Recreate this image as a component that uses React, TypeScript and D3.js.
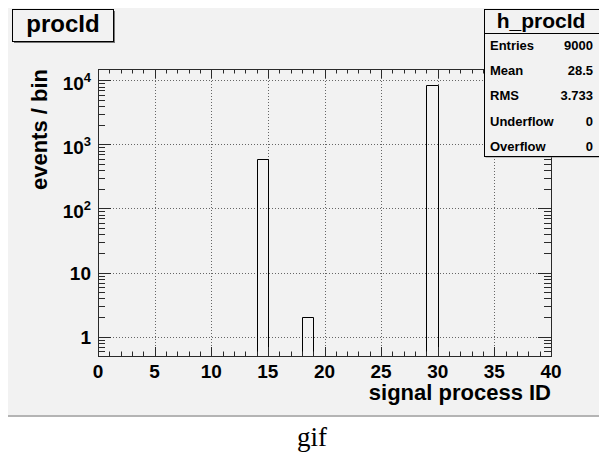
import * as d3 from 'd3';

// histogram h_procId: bins of width 1, only non-empty ones listed
const binLow = [14, 18, 29];
const binCounts = [597, 2, 8401];
const binWidth = 1;

const xTicks = [0, 5, 10, 15, 20, 25, 30, 35, 40];
const yDecades = [0, 1, 2, 3, 4];

const statLabels = ['Entries', 'Mean', 'RMS', 'Underflow', 'Overflow'];
const statValues = ['9000', '28.5', '3.733', '0', '0'];

const W = 599;
const H = 455;
const frame = { left: 98, right: 551, top: 69, bottom: 356 };
const sans = '"Liberation Sans", Arial, Helvetica, sans-serif';
const axisColor = '#2a2a2a';

export default function App() {
  const x = d3.scaleLinear().domain([0, 40]).range([frame.left, frame.right]);
  const y = d3.scaleLog().domain([0.5, 15000]).range([frame.bottom, frame.top]);

  const minorX = d3.range(0, 41, 1).filter(v => v % 5 !== 0);
  // log minor ticks 2..9 per decade, inside the domain
  const minorY: number[] = [];
  for (let e = -1; e <= 4; e++) {
    for (let m = 2; m <= 9; m++) {
      const v = m * Math.pow(10, e);
      if (v >= 0.5 && v <= 15000) minorY.push(v);
    }
  }

  const xMaj = 9, xMin = 4.5, yMaj = 13, yMin = 7;

  return (
    <div style={{ position: 'absolute', left: 0, top: 0 }}>
      <svg width={W} height={H} style={{ display: 'block' }}>
        <rect x={0} y={0} width={W} height={H} fill="#fff" />
        {/* canvas */}
        <rect x={8} y={8} width={600} height={408} fill="#f2f2f2" />
        <line x1={8} x2={608} y1={416} y2={416} stroke="#b4b4b4" strokeWidth={2} />

        {/* grid */}
        <g stroke="#666" strokeWidth={1} strokeDasharray="1 2">
          {xTicks.slice(1, -1).map(v => (
            <line key={'gx' + v} x1={Math.round(x(v)) + 0.5} x2={Math.round(x(v)) + 0.5}
              y1={frame.top} y2={frame.bottom} />
          ))}
          {yDecades.map(e => (
            <line key={'gy' + e} x1={frame.left} x2={frame.right}
              y1={Math.round(y(Math.pow(10, e))) + 0.5} y2={Math.round(y(Math.pow(10, e))) + 0.5} />
          ))}
        </g>

        {/* histogram */}
        <g fill="none" stroke="#000" strokeWidth={1}>
          {binLow.map((lo, i) => {
            const x0 = Math.round(x(lo)) + 0.5;
            const x1 = Math.round(x(lo + binWidth)) + 0.5;
            const yt = Math.round(y(binCounts[i])) + 0.5;
            return (
              <path key={'b' + lo}
                d={`M${x0},${frame.bottom}V${yt}H${x1}V${frame.bottom}`} />
            );
          })}
        </g>

        {/* frame and ticks */}
        <g stroke={axisColor} strokeWidth={1} fill="none">
          <rect x={frame.left + 0.5} y={frame.top + 0.5}
            width={frame.right - frame.left} height={frame.bottom - frame.top} />
          {xTicks.map(v => {
            const px = Math.round(x(v)) + 0.5;
            return (
              <g key={'tx' + v}>
                <line x1={px} x2={px} y1={frame.bottom} y2={frame.bottom - xMaj} />
                <line x1={px} x2={px} y1={frame.top} y2={frame.top + xMaj} />
              </g>
            );
          })}
          {minorX.map(v => {
            const px = Math.round(x(v)) + 0.5;
            return (
              <g key={'mx' + v}>
                <line x1={px} x2={px} y1={frame.bottom} y2={frame.bottom - xMin} />
                <line x1={px} x2={px} y1={frame.top} y2={frame.top + xMin} />
              </g>
            );
          })}
          {yDecades.map(e => {
            const py = Math.round(y(Math.pow(10, e))) + 0.5;
            return (
              <g key={'ty' + e}>
                <line x1={frame.left} x2={frame.left + yMaj} y1={py} y2={py} />
                <line x1={frame.right} x2={frame.right - yMaj} y1={py} y2={py} />
              </g>
            );
          })}
          {minorY.map(v => {
            const py = Math.round(y(v)) + 0.5;
            return (
              <g key={'my' + v}>
                <line x1={frame.left} x2={frame.left + yMin} y1={py} y2={py} />
                <line x1={frame.right} x2={frame.right - yMin} y1={py} y2={py} />
              </g>
            );
          })}
        </g>

        {/* tick labels */}
        <g fontFamily={sans} fontWeight="bold" fill="#000">
          {xTicks.map(v => (
            <text key={'lx' + v} x={x(v)} y={frame.bottom + 22} fontSize={19} textAnchor="middle">
              {v}
            </text>
          ))}
          {yDecades.map(e => {
            const py = y(Math.pow(10, e));
            if (e === 0) return <text key={'ly' + e} x={91} y={py + 7} fontSize={19} textAnchor="end">1</text>;
            if (e === 1) return <text key={'ly' + e} x={91} y={py + 7} fontSize={19} textAnchor="end">10</text>;
            return (
              <text key={'ly' + e} x={91} y={py + 10} fontSize={19} textAnchor="end">
                10<tspan fontSize={13} dy={-8}>{e}</tspan>
              </text>
            );
          })}
          <text x={frame.right} y={400} fontSize={22} textAnchor="end">signal process ID</text>
          <text transform={`translate(47,${frame.top}) rotate(-90)`} fontSize={22} textAnchor="end">
            events / bin
          </text>
        </g>

        {/* title box */}
        <rect x={14} y={11} width={101} height={32} fill="#777" />
        <rect x={12.5} y={9.5} width={101} height={32} fill="#f2f2f2" stroke="#000" strokeWidth={1} />
        <text x={63} y={32} fontFamily={sans} fontWeight="bold" fontSize={24} textAnchor="middle">procId</text>

        {/* stats box */}
        <rect x={485.5} y={10.5} width={120} height={147} fill="#888" />
        <rect x={484.5} y={9.5} width={120} height={147} fill="#f2f2f2" stroke="#000" strokeWidth={1} />
        <line x1={484.5} x2={604.5} y1={33.5} y2={33.5} stroke="#000" />
        <g fontFamily={sans} fontWeight="bold">
          <text x={541} y={28} fontSize={21} textAnchor="middle">h_procId</text>
          {statLabels.map((s, i) => (
            <g key={s}>
              <text x={490} y={50 + i * 25.2} fontSize={13}>{s}</text>
              <text x={593} y={50 + i * 25.2} fontSize={13} textAnchor="end">{statValues[i]}</text>
            </g>
          ))}
        </g>

        {/* caption */}
        <text x={312} y={446} fontFamily='"Liberation Serif", "Times New Roman", serif' fontSize={27}
          textAnchor="middle">gif</text>
      </svg>
    </div>
  );
}
